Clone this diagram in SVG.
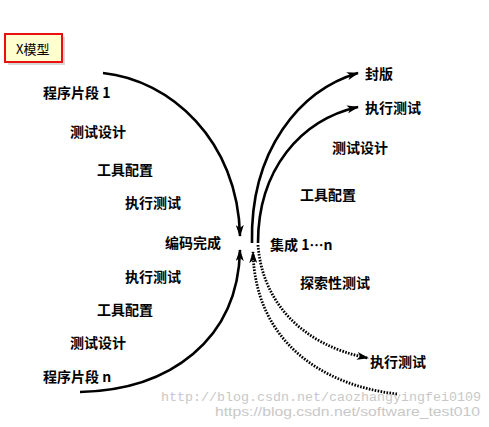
<svg xmlns="http://www.w3.org/2000/svg" width="489" height="427" viewBox="0 0 489 427">
<style>
.lbl{font-family:"Noto Sans CJK SC","Liberation Sans",sans-serif;font-size:14px;font-weight:bold;fill:#000}
.arc{fill:none;stroke:#000;stroke-width:2.6}
.dot{fill:none;stroke:#000;stroke-width:2.8;stroke-dasharray:1.6 1.4}
.wm1{font-family:"Liberation Mono",monospace;font-size:12px;fill:#c8c8c8}
.wm2{font-family:"Liberation Sans",sans-serif;font-size:13px;fill:#c8c8c8}
</style>
<defs>
<marker id="ah" viewBox="0 0 12 8" refX="11" refY="4" markerWidth="12" markerHeight="8" markerUnits="userSpaceOnUse" orient="auto">
<path d="M0,0 L12,4 L0,8 L3,4 Z" fill="#000"/>
</marker>
</defs>
<rect width="489" height="427" fill="#fff"/>
<g id="title">
<rect x="8" y="37" width="57" height="28" fill="#d8d8d8"/>
<rect x="5" y="34" width="57" height="28" fill="#ffffd0" stroke="#e81010" stroke-width="2"/>
<text x="16" y="54" style="font-family:'Noto Sans CJK SC','Liberation Sans',sans-serif;font-size:13px;fill:#000">X模型</text>
</g>
<g id="connectors">
<path class="arc" d="M103,73 C170,80 238,140 240,236" marker-end="url(#ah)"/>
<path class="arc" d="M80,392 C170,390 238,340 240,250" marker-end="url(#ah)"/>
<path class="arc" d="M252,243 C250,150 300,90 358,73" marker-end="url(#ah)"/>
<path class="arc" d="M258,243 C258,170 300,120 358,107" marker-end="url(#ah)"/>
<path class="dot" d="M397,394 C320,385 255,340 253,252" marker-end="url(#ah)"/>
<path class="dot" d="M258,245 C262,300 300,345 368,358" marker-end="url(#ah)"/>
</g>
<g id="left-labels">
<text class="lbl" x="43" y="98">程序片段 1</text>
<text class="lbl" x="70" y="137">测试设计</text>
<text class="lbl" x="97" y="175">工具配置</text>
<text class="lbl" x="125" y="208">执行测试</text>
<text class="lbl" x="165" y="248">编码完成</text>
<text class="lbl" x="125" y="282">执行测试</text>
<text class="lbl" x="97" y="315">工具配置</text>
<text class="lbl" x="70" y="348">测试设计</text>
<text class="lbl" x="43" y="382">程序片段 n</text>
</g>
<g id="right-labels">
<text class="lbl" x="365" y="79">封版</text>
<text class="lbl" x="365" y="113">执行测试</text>
<text class="lbl" x="332" y="153">测试设计</text>
<text class="lbl" x="300" y="200">工具配置</text>
<text class="lbl" x="270" y="250">集成 1…n</text>
<text class="lbl" x="300" y="288">探索性测试</text>
<text class="lbl" x="370" y="367">执行测试</text>
</g>
<g id="watermark">
<text class="wm1" x="161" y="401" textLength="320" lengthAdjust="spacingAndGlyphs">http://blog.csdn.net/caozhangyingfei0109</text>
<text class="wm2" x="215" y="416" textLength="265" lengthAdjust="spacingAndGlyphs">https://blog.csdn.net/software_test010</text>
</g>
</svg>
